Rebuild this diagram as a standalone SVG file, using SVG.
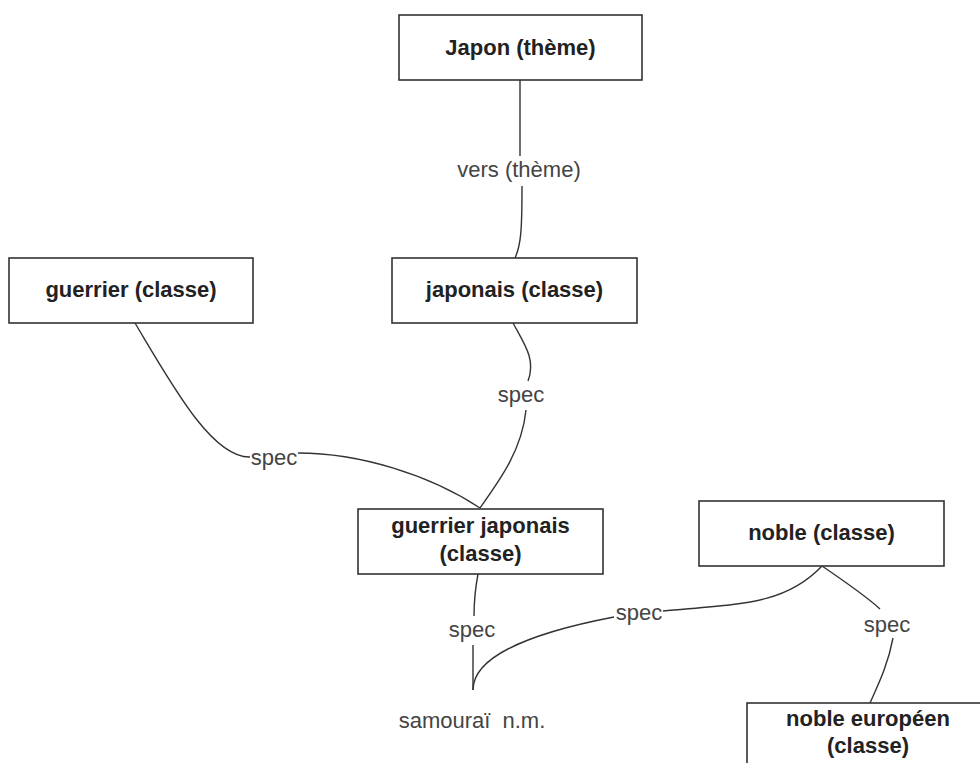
<svg xmlns="http://www.w3.org/2000/svg" width="980" height="763" viewBox="0 0 980 763">
<style>
.box{fill:#fff;stroke:#333;stroke-width:1.6}
.nt{font-family:"Liberation Sans",Arial,sans-serif;font-weight:bold;font-size:22px;fill:#222;text-anchor:middle}
.lb{font-family:"Liberation Sans",Arial,sans-serif;font-size:22px;fill:#444;text-anchor:middle}
.cn{fill:none;stroke:#333;stroke-width:1.4}
</style>
<rect width="980" height="763" fill="#fff"/>
<g id="connectors">
<path class="cn" d="M520,80 L520,156"/>
<path class="cn" d="M522,186 C522,230 521,245 515,258"/>
<path class="cn" d="M135,323 C172,385 212,458 250,457"/>
<path class="cn" d="M298,453 C360,453 430,475 480,508"/>
<path class="cn" d="M513,323 C525,345 536,360 528,381"/>
<path class="cn" d="M526,410 C522,450 500,480 480,508"/>
<path class="cn" d="M478,574 C475,590 474,600 474,616"/>
<path class="cn" d="M473,645 L473,690"/>
<path class="cn" d="M473,690 C473,660 520,635 614,617"/>
<path class="cn" d="M663,611 C740,604 785,605 822,566"/>
<path class="cn" d="M822,566 C850,585 868,598 880,609"/>
<path class="cn" d="M893,638 C888,665 878,685 870,703"/>
<text class="lb" x="519" y="177">vers (thème)</text>
<text class="lb" x="274" y="465">spec</text>
<text class="lb" x="521" y="402">spec</text>
<text class="lb" x="472" y="637">spec</text>
<text class="lb" x="639" y="620">spec</text>
<text class="lb" x="887" y="632">spec</text>
</g>
<g id="japon">
<rect class="box" x="399" y="15" width="243" height="65"/>
<text class="nt" x="520.5" y="55">Japon (thème)</text>
</g>
<g id="guerrier">
<rect class="box" x="9" y="258" width="244" height="65"/>
<text class="nt" x="131" y="297">guerrier (classe)</text>
</g>
<g id="japonais">
<rect class="box" x="392" y="258" width="245" height="65"/>
<text class="nt" x="514.5" y="297">japonais (classe)</text>
</g>
<g id="guerrier-japonais">
<rect class="box" x="358" y="509" width="245" height="65"/>
<text class="nt" x="480.5" y="533">guerrier japonais</text>
<text class="nt" x="480.5" y="561">(classe)</text>
</g>
<g id="noble">
<rect class="box" x="699" y="501" width="245" height="65"/>
<text class="nt" x="821.5" y="540">noble (classe)</text>
</g>
<g id="noble-europeen">
<rect class="box" x="747" y="703" width="245" height="65"/>
<text class="nt" x="868" y="726">noble européen</text>
<text class="nt" x="868" y="753">(classe)</text>
</g>
<g id="samourai">
<text class="lb" x="472" y="728" word-spacing="6">samouraï n.m.</text>
</g>
</svg>
